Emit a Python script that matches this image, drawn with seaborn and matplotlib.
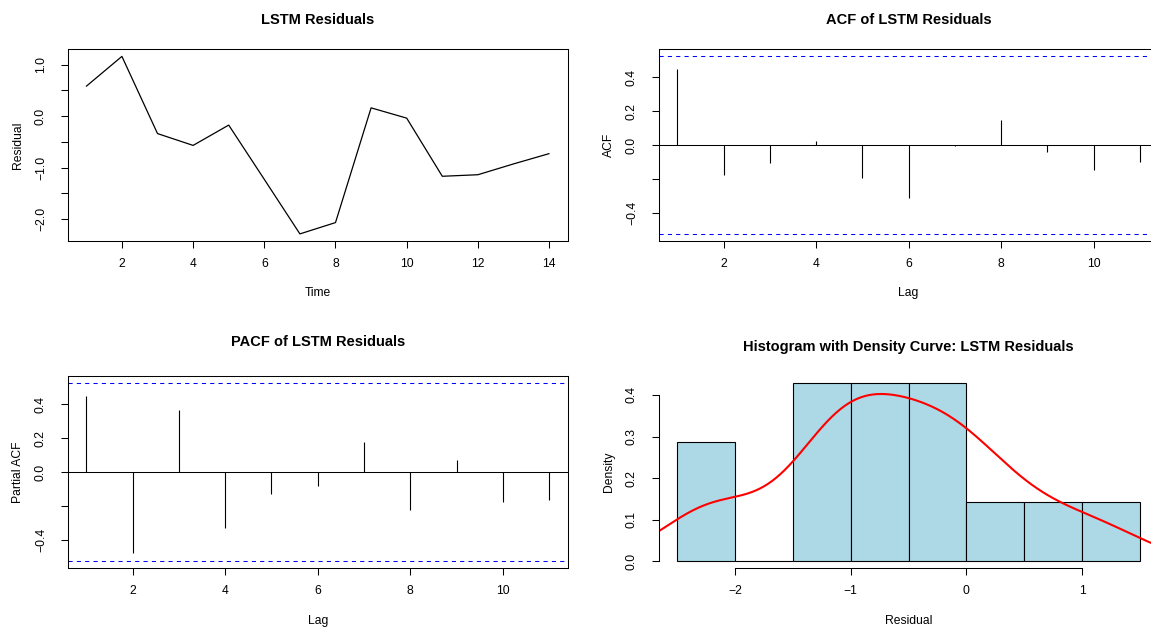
import numpy as np
import seaborn as sns
import matplotlib
matplotlib.use("Agg")
import matplotlib.pyplot as plt

# ---- data -------------------------------------------------------------
time_index = list(range(1, 15))
residuals = [0.58, 1.16, -0.34, -0.57, -0.175, -1.23, -2.29,
             -2.07, 0.16, -0.04, -1.17, -1.14, -0.93, -0.73]

lags = list(range(1, 12))
acf_values = [0.451, -0.175, -0.108, 0.026, -0.195, -0.309,
              -0.006, 0.150, -0.043, -0.144, -0.102]
pacf_values = [0.451, -0.474, 0.363, -0.327, -0.126, -0.079,
               0.179, -0.221, 0.071, -0.173, -0.162]

hist_breaks = [-2.5, -2.0, -1.5, -1.0, -0.5, 0.0, 0.5, 1.0, 1.5]

resid_yticks = [-2.0, -1.5, -1.0, -0.5, 0.0, 0.5, 1.0]
resid_ylabels = ["\u22122.0", "", "\u22121.0", "", "0.0", "", "1.0"]
time_xticks = [2, 4, 6, 8, 10, 12, 14]
lag_xticks = [2, 4, 6, 8, 10]
corr_yticks = [-0.4, -0.2, 0.0, 0.2, 0.4]
corr_ylabels = ["\u22120.4", "", "0.0", "0.2", "0.4"]
dens_yticks = [0.0, 0.1, 0.2, 0.3, 0.4]
dens_ylabels = ["0.0", "0.1", "0.2", "0.3", "0.4"]
resid_xticks = [-2, -1, 0, 1]
resid_xlabels = ["\u22122", "\u22121", "0", "1"]

# ---- style ------------------------------------------------------------
sns.set_theme(style="ticks", rc={
    "axes.edgecolor": "black",
    "axes.linewidth": 0.75,
    "xtick.color": "black",
    "ytick.color": "black",
    "text.color": "black",
    "axes.labelcolor": "black",
})
plt.rcParams["font.family"] = ["Liberation Sans", "DejaVu Sans"]
BASE = 8.75
TITLE = 10.5

W, H = 1151, 628
fig = plt.figure(figsize=(W / 100, H / 100), dpi=100)


def px_axes(left, top, right, bottom):
    return fig.add_axes([left / W, 1 - bottom / H, (right - left) / W, (bottom - top) / H])


def r_range(lo, hi):
    d = 0.04 * (hi - lo)
    return lo - d, hi + d


LEFT_COL = (67.8, 567.6)
RIGHT_COL = (658.8, 1158.3)      # full plotting width of the right column
TOP_ROW = (49.3, 241.0)
BOT_ROW = (376.0, 568.3)
visible_frac = (W - RIGHT_COL[0]) / (RIGHT_COL[1] - RIGHT_COL[0])


def style_axis(ax, xticks, xlabels, yticks, ylabels):
    ax.set_xticks(xticks)
    ax.set_xticklabels(xlabels)
    ax.set_yticks(yticks)
    ax.set_yticklabels(ylabels)
    ax.tick_params(axis="both", direction="out", length=5, width=0.75,
                   labelsize=BASE)
    ax.tick_params(axis="x", pad=7)
    ax.tick_params(axis="y", pad=10, labelrotation=90)
    plt.setp(ax.get_yticklabels(), va="center")


def labels(ax, col, row, title, xlabel, ylabel, title_y, xlabel_y):
    cx = (col[0] + col[1]) / 2
    cy = (row[0] + row[1]) / 2
    fig.text(cx / W, 1 - title_y / H, title, ha="center", va="center",
             fontsize=TITLE, fontweight="bold")
    ax.set_xlabel(xlabel, fontsize=BASE, va="center")
    ax.set_ylabel(ylabel, fontsize=BASE, va="center")
    ax.xaxis.set_label_coords(cx / W, 1 - xlabel_y / H, transform=fig.transFigure)
    ax.yaxis.set_label_coords((col[0] - 50) / W, 1 - cy / H, transform=fig.transFigure)


n = len(residuals)
clim = 1.96 / np.sqrt(n)

# ---- residual series --------------------------------------------------
ax1 = px_axes(LEFT_COL[0], TOP_ROW[0], LEFT_COL[1], TOP_ROW[1])
sns.lineplot(x=time_index, y=residuals, color="black", linewidth=0.9, ax=ax1)
ax1.set_xlim(*r_range(min(time_index), max(time_index)))
ax1.set_ylim(*r_range(min(residuals), max(residuals)))
style_axis(ax1, time_xticks, [str(t) for t in time_xticks], resid_yticks, resid_ylabels)
labels(ax1, LEFT_COL, TOP_ROW, "LSTM Residuals", "Time", "Residual", 20, 293)


# ---- correlogram helper -----------------------------------------------
def correlogram(ax, values, full_width=True):
    ax.vlines(lags, 0, values, color="black", linewidth=0.8)
    ax.axhline(0, color="black", linewidth=0.75)
    for c in (clim, -clim):
        ax.axhline(c, color="blue", linewidth=0.75, linestyle=(0, (4, 4)))
    lo, hi = r_range(min(lags), max(lags))
    if not full_width:
        hi = lo + (hi - lo) * visible_frac
    ax.set_xlim(lo, hi)
    ylo, yhi = r_range(min(min(values), -clim), max(max(values), clim))
    ax.set_ylim(ylo, yhi)
    style_axis(ax, lag_xticks, [str(t) for t in lag_xticks], corr_yticks, corr_ylabels)


ax2 = px_axes(RIGHT_COL[0], TOP_ROW[0], W, TOP_ROW[1])
correlogram(ax2, acf_values, full_width=False)
ax2.spines["right"].set_visible(False)
labels(ax2, RIGHT_COL, TOP_ROW, "ACF of LSTM Residuals", "Lag", "ACF", 20, 293)

ax3 = px_axes(LEFT_COL[0], BOT_ROW[0], LEFT_COL[1], BOT_ROW[1])
correlogram(ax3, pacf_values)
labels(ax3, LEFT_COL, BOT_ROW, "PACF of LSTM Residuals", "Lag", "Partial ACF", 342, 621)

# ---- histogram with density curve -------------------------------------
ax4 = px_axes(RIGHT_COL[0], BOT_ROW[0], W, BOT_ROW[1])
sns.histplot(x=residuals, bins=hist_breaks, stat="density", color="#ADD8E6",
             edgecolor="black", linewidth=0.8, alpha=1, ax=ax4)

res = np.asarray(residuals)
sd = res.std(ddof=1)
q75, q25 = np.percentile(res, [75, 25])
bw = 0.9 * min(sd, (q75 - q25) / 1.34) * n ** -0.2   # Silverman's rule (nrd0)
sns.kdeplot(x=residuals, bw_method=bw / sd, cut=3, gridsize=512,
            color="red", linewidth=1.5, ax=ax4)

dens, _ = np.histogram(res, bins=hist_breaks, density=True)
xlo, xhi = r_range(hist_breaks[0], hist_breaks[-1])
ax4.set_xlim(xlo, xlo + (xhi - xlo) * visible_frac)
ax4.set_ylim(*r_range(0, dens.max()))
style_axis(ax4, resid_xticks, resid_xlabels, dens_yticks, dens_ylabels)
ax4.spines["top"].set_visible(False)
ax4.spines["right"].set_visible(False)
ax4.spines["left"].set_bounds(dens_yticks[0], dens_yticks[-1])
ax4.spines["bottom"].set_bounds(resid_xticks[0], resid_xticks[-1])
labels(ax4, RIGHT_COL, BOT_ROW, "Histogram with Density Curve: LSTM Residuals",
       "Residual", "Density", 347, 621)

fig.savefig("out.png", dpi=100)
